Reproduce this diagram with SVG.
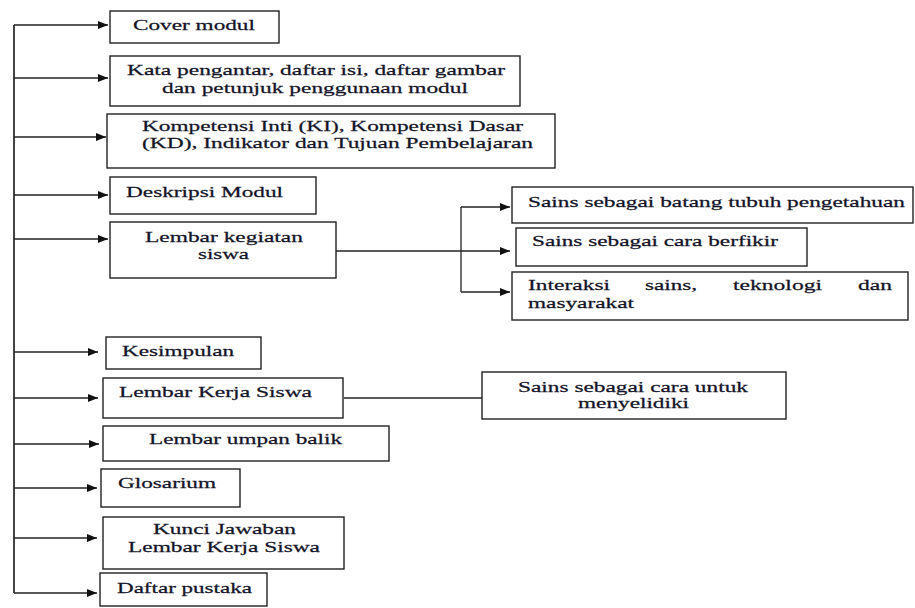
<svg xmlns="http://www.w3.org/2000/svg" width="915" height="608" viewBox="0 0 915 608">
<style>
.box{fill:#fff;stroke:#222;stroke-width:1.4}
.ln{fill:none;stroke:#222;stroke-width:1.3}
.trunk{fill:none;stroke:#444;stroke-width:2}
text{font-family:"Liberation Serif","Times New Roman",serif;font-size:15.5px;fill:#141428;stroke:#141428;stroke-width:0.25}
</style>
<defs>
<marker id="ah" markerWidth="10" markerHeight="8" refX="10" refY="4" orient="auto" markerUnits="userSpaceOnUse">
<path d="M0,0 L10,4 L0,8 Z" fill="#111"/>
</marker>
</defs>
<rect width="915" height="608" fill="#fff"/>
<g id="connectors">
<path class="trunk" d="M14,25 V593"/>
<path class="ln" d="M14,25 H108" marker-end="url(#ah)"/>
<path class="ln" d="M14,78 H108" marker-end="url(#ah)"/>
<path class="ln" d="M14,137 H106" marker-end="url(#ah)"/>
<path class="ln" d="M14,195 H108" marker-end="url(#ah)"/>
<path class="ln" d="M14,239 H108" marker-end="url(#ah)"/>
<path class="ln" d="M14,352 H98" marker-end="url(#ah)"/>
<path class="ln" d="M14,398 H98" marker-end="url(#ah)"/>
<path class="ln" d="M14,444 H99" marker-end="url(#ah)"/>
<path class="ln" d="M14,488 H97" marker-end="url(#ah)"/>
<path class="ln" d="M14,538 H97" marker-end="url(#ah)"/>
<path class="ln" d="M14,593 H97" marker-end="url(#ah)"/>
<path class="ln" d="M336,251 H461"/>
<path class="ln" d="M461,207 V292"/>
<path class="ln" d="M461,207 H510" marker-end="url(#ah)"/>
<path class="ln" d="M461,251 H510" marker-end="url(#ah)"/>
<path class="ln" d="M461,292 H510" marker-end="url(#ah)"/>
<path class="ln" d="M344,398 H482"/>
</g>
<g id="cover"><rect class="box" x="110" y="11" width="169" height="32"/><text transform="translate(133,30) scale(1.3,1)" textLength="93.8" lengthAdjust="spacingAndGlyphs">Cover modul</text></g>
<g id="kata"><rect class="box" x="110" y="56" width="410" height="50"/><text transform="translate(127,75) scale(1.3,1)" textLength="290.8" lengthAdjust="spacingAndGlyphs">Kata pengantar, daftar isi, daftar gambar</text><text transform="translate(162,93) scale(1.3,1)" textLength="235.4" lengthAdjust="spacingAndGlyphs">dan petunjuk penggunaan modul</text></g>
<g id="kompetensi"><rect class="box" x="107" y="114" width="448" height="54"/><text transform="translate(142,131) scale(1.3,1)" textLength="293.1" lengthAdjust="spacingAndGlyphs">Kompetensi Inti (KI), Kompetensi Dasar</text><text transform="translate(142,148) scale(1.3,1)" textLength="300.8" lengthAdjust="spacingAndGlyphs">(KD), Indikator dan Tujuan Pembelajaran</text></g>
<g id="deskripsi"><rect class="box" x="110" y="177" width="206" height="37"/><text transform="translate(126,197) scale(1.3,1)" textLength="120.8" lengthAdjust="spacingAndGlyphs">Deskripsi Modul</text></g>
<g id="lembar-kegiatan"><rect class="box" x="110" y="222" width="226" height="56"/><text transform="translate(145,242) scale(1.3,1)" textLength="121.5" lengthAdjust="spacingAndGlyphs">Lembar kegiatan</text><text transform="translate(198,259) scale(1.3,1)" textLength="39.2" lengthAdjust="spacingAndGlyphs">siswa</text></g>
<g id="sains-batang"><rect class="box" x="512" y="187" width="401" height="36"/><text transform="translate(528,207) scale(1.3,1)" textLength="290" lengthAdjust="spacingAndGlyphs">Sains sebagai batang tubuh pengetahuan</text></g>
<g id="sains-berfikir"><rect class="box" x="516" y="228" width="291" height="38"/><text transform="translate(532,246) scale(1.3,1)" textLength="189.2" lengthAdjust="spacingAndGlyphs">Sains sebagai cara berfikir</text></g>
<g id="interaksi"><rect class="box" x="512" y="272" width="396" height="48"/><text transform="translate(528,290) scale(1.3,1)" textLength="63.1" lengthAdjust="spacingAndGlyphs">Interaksi</text><text transform="translate(645,290) scale(1.3,1)" textLength="40" lengthAdjust="spacingAndGlyphs">sains,</text><text transform="translate(733,290) scale(1.3,1)" textLength="68.5" lengthAdjust="spacingAndGlyphs">teknologi</text><text transform="translate(858,290) scale(1.3,1)" textLength="26.2" lengthAdjust="spacingAndGlyphs">dan</text><text transform="translate(528,308) scale(1.3,1)" textLength="81.5" lengthAdjust="spacingAndGlyphs">masyarakat</text></g>
<g id="kesimpulan"><rect class="box" x="106" y="337" width="155" height="32"/><text transform="translate(122,356) scale(1.3,1)" textLength="86.2" lengthAdjust="spacingAndGlyphs">Kesimpulan</text></g>
<g id="lks"><rect class="box" x="103" y="378" width="240" height="40"/><text transform="translate(119,397) scale(1.3,1)" textLength="148.5" lengthAdjust="spacingAndGlyphs">Lembar Kerja Siswa</text></g>
<g id="sains-menyelidiki"><rect class="box" x="482" y="372" width="304" height="47"/><text transform="translate(518,392) scale(1.3,1)" textLength="176.9" lengthAdjust="spacingAndGlyphs">Sains sebagai cara untuk</text><text transform="translate(578,408) scale(1.3,1)" textLength="85.4" lengthAdjust="spacingAndGlyphs">menyelidiki</text></g>
<g id="umpan-balik"><rect class="box" x="103" y="426" width="286" height="35"/><text transform="translate(149,444) scale(1.3,1)" textLength="148.5" lengthAdjust="spacingAndGlyphs">Lembar umpan balik</text></g>
<g id="glosarium"><rect class="box" x="101" y="469" width="139" height="38"/><text transform="translate(118,488) scale(1.3,1)" textLength="75.4" lengthAdjust="spacingAndGlyphs">Glosarium</text></g>
<g id="kunci"><rect class="box" x="103" y="517" width="241" height="52"/><text transform="translate(153,534) scale(1.3,1)" textLength="110" lengthAdjust="spacingAndGlyphs">Kunci Jawaban</text><text transform="translate(128,552) scale(1.3,1)" textLength="147.7" lengthAdjust="spacingAndGlyphs">Lembar Kerja Siswa</text></g>
<g id="daftar-pustaka"><rect class="box" x="100" y="573" width="167" height="33"/><text transform="translate(117,593) scale(1.3,1)" textLength="103.8" lengthAdjust="spacingAndGlyphs">Daftar pustaka</text></g>
</svg>
